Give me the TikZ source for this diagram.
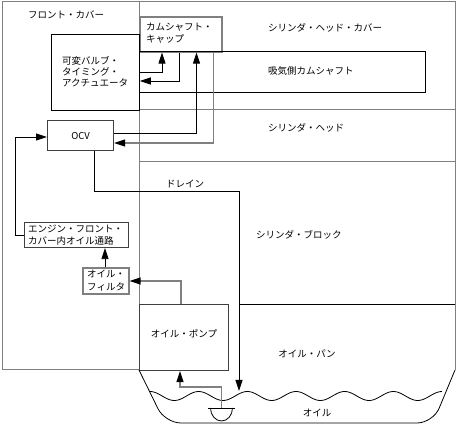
\documentclass[tikz,border=0pt]{standalone}
\usepackage{fontspec}
\newfontfamily\jp{Noto Sans CJK JP}
\usetikzlibrary{arrows.meta}
\begin{document}
\begin{tikzpicture}[x=1pt,y=-1pt,
  font=\jp\fontsize{9.5}{12}\selectfont,
  gl/.style={draw=gray, line width=1pt},
  gk/.style={draw=gray, line width=1.6pt},
  bl/.style={draw=black, line width=0.8pt},
  dk/.style={draw=black!75, line width=1.1pt},
  arr/.style={-{Triangle[length=11pt,width=7pt,color=black]}},
  boxn/.style={anchor=north west, inner sep=0pt, rectangle},
  lbl/.style={anchor=west, inner sep=0pt},
  txt/.style={anchor=west, inner sep=0pt, align=left},
]
\useasboundingbox (0,0) rectangle (458,427);
% frame and regions
\draw[gl] (2,370) -- (2,2) -- (455,2) -- (455,370);
\draw[gl] (2,370) -- (139,370);
\draw[gl] (139,2) -- (139,370);
\draw[gl] (139,110) -- (455,110);
\draw[gl] (139,162) -- (455,162);
\draw[bl] (239,304) -- (455,304);
% boxes
\node[boxn, gk, minimum width=82pt, minimum height=35pt] (cap) at (139,16) {};
\node[boxn, bl, minimum width=286pt, minimum height=41pt] (intake) at (139,51) {};
\node[boxn, bl, minimum width=88pt, minimum height=76pt] (vvt) at (51,34) {};
\node[boxn, dk, minimum width=66pt, minimum height=30pt] (ocv) at (47,120) {OCV};
\node[boxn, dk, minimum width=104pt, minimum height=25pt] (pass) at (24,222) {};
\node[boxn, gk, minimum width=46pt, minimum height=26pt] (filt) at (82,267) {};
\node[boxn, dk, minimum width=89pt, minimum height=66pt] (pump) at (139,304) {};
% texts
\node[txt] (capt) at (146,33.5) {カムシャフト・\\キャップ};
\node[txt, font=\jp\fontsize{9.5}{11}\selectfont] (vvtt) at (62,72) {可変バルブ・\\タイミング・\\アクチュエータ};
\node[txt] (passt) at (28,235) {エンジン・フロント・\\カバー内オイル通路};
\node[txt, font=\jp\fontsize{9.5}{13}\selectfont] (filtt) at (87,280.5) {オイル・\\フィルタ};
\node[inner sep=0pt] (pumpt) at (184,334) {オイル・ポンプ};
\node[lbl] (fc) at (28,15) {フロント・カバー};
\node[lbl] (hc) at (268,28) {シリンダ・ヘッド・カバー};
\node[lbl] (it) at (268,71) {吸気側カムシャフト};
\node[lbl] (hd) at (268,128) {シリンダ・ヘッド};
\node[lbl] (blk) at (256,235) {シリンダ・ブロック};
\node[inner sep=0pt] (drn) at (185,184) {ドレイン};
\node[inner sep=0pt] (pant) at (307,354) {オイル・パン};
\node[inner sep=0pt] (oilt) at (317,413) {オイル};
% oil pan and oil
\draw[bl, rounded corners=16pt] (139,370) -- (165,423) -- (433,423) -- (455,370);
\draw[bl] plot[domain=150:442, samples=160, smooth] (\x, {396 - 4.5*cos(7.3967*(\x-150))});
% strainer
\coordinate (str) at (221.5,408);
\draw[bl] (208,408) -- (235,408);
\draw[bl] (210.5,408) arc[start angle=180, end angle=360, x radius=11pt, y radius=13pt];
% connectors
\draw[bl,arr] (vvt.east |- 0,72) -| (cap.south -| 162,0);
\draw[bl,arr] (cap.south -| 179,0) |- (vvt.east |- 0,81);
\draw[bl,arr] (ocv.east |- 0,133) -| (cap.south -| 196.5,0);
\draw[gl,line width=1.3pt,arr] (cap.south -| 213.5,0) |- (ocv.east |- 0,143);
\draw[bl,arr] (pass.west) -| (15,137) -- (ocv.west |- 0,137);
\coordinate (drainend) at (239,391);
\draw[bl,arr] (ocv.south -| 94,0) |- (239,191) -- (drainend);
\draw[bl,arr] (filt.north -| 105,0) -- (pass.south -| 105,0);
\draw[gl,line width=1.3pt,arr] (pump.north -| 181,0) |- (filt.east |- 0,281);
\draw[gl,line width=1.3pt,arr] (str) |- (180,387) -- (pump.south -| 180,0);
\end{tikzpicture}
\end{document}
